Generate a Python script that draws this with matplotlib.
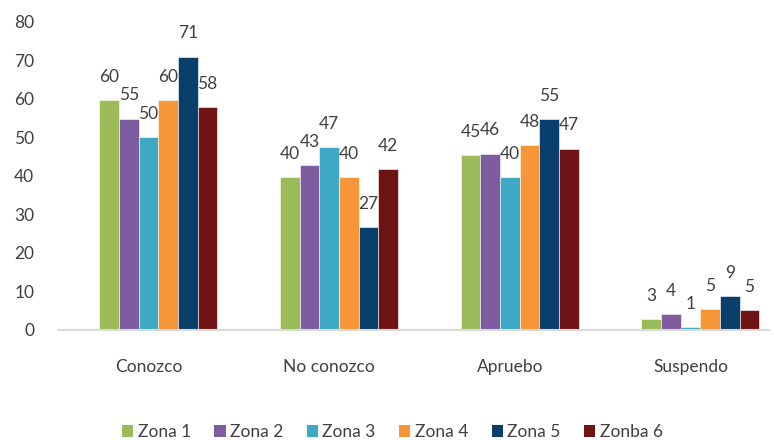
import matplotlib
matplotlib.use("Agg")
import matplotlib.pyplot as plt
from matplotlib.patches import Patch
import numpy as np

plt.rcParams['font.family'] = ['Lato', 'DejaVu Sans']

categories = ["Conozco", "No conozco", "Apruebo", "Suspendo"]
series_names = ["Zona 1", "Zona 2", "Zona 3", "Zona 4", "Zona 5", "Zonba 6"]
zona1 = [59.6, 39.5, 45.3, 2.7]
zona2 = [54.8, 42.8, 45.7, 4.1]
zona3 = [49.9, 47.4, 39.6, 0.7]
zona4 = [59.7, 39.6, 48.0, 5.3]
zona5 = [70.9, 26.7, 54.6, 8.6]
zona6 = [57.9, 41.6, 47.0, 5.0]
series = [zona1, zona2, zona3, zona4, zona5, zona6]
colors = ["#9BBB59", "#7E5CA0", "#3EA9C5", "#F79637", "#083F6B", "#6E1414"]
yticks = [0, 10, 20, 30, 40, 50, 60, 70, 80]

fig = plt.figure(figsize=(7.74, 4.40), dpi=100)
W, H = 774, 440
ax = fig.add_axes([58 / W, 1 - 329.5 / H, (769 - 58) / W, (329.5 - 21.5) / H])

x = np.arange(len(categories))
bw = 0.1088
offset = 0.055
text_color = "#404040"
fs = 12.5
for i, (vals, c) in enumerate(zip(series, colors)):
    pos = x + offset + (i - 2.5) * bw
    bars = ax.bar(pos, vals, width=bw, color=c, edgecolor="white", linewidth=0.4,
                  label=series_names[i], zorder=2)
    for b, v in zip(bars, vals):
        ax.annotate(f"{v:.0f}", (b.get_x() + b.get_width() / 2, v),
                    xytext=(0, 13), textcoords="offset points",
                    ha="center", va="baseline", fontsize=fs, color=text_color)

ax.set_xlim(-0.5, -0.5 + (769 - 58) / 180.7)
ax.set_ylim(0, 80)
ax.set_yticks(yticks)
ax.set_xticks(x)
ax.set_xticklabels(categories)
ax.tick_params(axis="both", length=0, labelsize=fs, colors=text_color)
ax.tick_params(axis="x", pad=21)
ax.tick_params(axis="y", pad=17)
for s in ["top", "right", "left"]:
    ax.spines[s].set_visible(False)
ax.spines["bottom"].set_color("#D9D9D9")
ax.spines["bottom"].set_linewidth(1.5)
ax.spines["bottom"].set_zorder(3)

handles = [Patch(facecolor=c, edgecolor="none") for c in colors]
fig.legend(handles, series_names, loc="center", bbox_to_anchor=(0.507, 1 - 432 / H),
           ncol=6, frameon=False, fontsize=fs, handlelength=0.65, handleheight=0.65,
           handletextpad=0.25, columnspacing=1.35, labelcolor=text_color)

fig.savefig("out.png", dpi=100)
